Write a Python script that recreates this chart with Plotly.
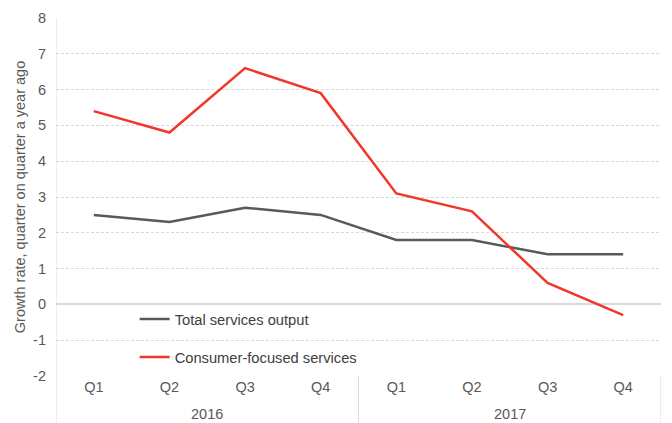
import plotly.graph_objects as go

years = ["2016", "2017"]
quarters = ["Q1", "Q2", "Q3", "Q4", "Q1", "Q2", "Q3", "Q4"]
total_services = [2.5, 2.3, 2.7, 2.5, 1.8, 1.8, 1.4, 1.4]
consumer_services = [5.4, 4.8, 6.6, 5.9, 3.1, 2.6, 0.6, -0.3]
y_ticks = list(range(-2, 9))

GRID = "#d9d9d9"
TEXT = "#595959"
FONT = "Liberation Sans, Arial, sans-serif"

# one slot per quarter along the x axis
pos = list(range(len(quarters)))

fig = go.Figure()
fig.add_trace(go.Scatter(
    x=pos, y=total_services, mode="lines", name="Total services output",
    line=dict(color="#595959", width=2.5), legendgroup="a",
))
fig.add_trace(go.Scatter(
    x=pos, y=consumer_services, mode="lines", name="Consumer-focused services",
    line=dict(color="#f0372a", width=2.5), legendgroup="b",
))

# year labels beneath the quarter labels, centred on each group of four
for i, yr in enumerate(years):
    fig.add_annotation(
        x=i * 4 + 1.5, y=-0.105, xref="x", yref="paper",
        text=yr, showarrow=False, yanchor="middle",
        font=dict(size=14.5, color=TEXT),
    )

# vertical dividers through the label band: left edge, between years, right edge
for xv in [-0.5, 3.5, 7.5]:
    fig.add_shape(
        type="line", xref="x", yref="paper",
        x0=xv, x1=xv, y0=0 if xv != -0.5 else 1, y1=-0.13,
        line=dict(color=GRID, width=1),
    )

fig.update_layout(
    width=672, height=423,
    margin=dict(l=56, r=11, t=18, b=47),
    paper_bgcolor="white", plot_bgcolor="white",
    font=dict(family=FONT, size=14.5, color=TEXT),
    showlegend=True,
    legend=dict(
        x=0.13, y=0.105, xanchor="left", yanchor="middle",
        bgcolor="rgba(0,0,0,0)", itemwidth=30,
        tracegroupgap=16, font=dict(size=14.7, color="#404040"),
    ),
)

fig.update_xaxes(
    range=[-0.5, 7.5],
    tickmode="array", tickvals=pos, ticktext=quarters,
    showgrid=False, showline=False, zeroline=False,
    ticks="", ticklabelstandoff=0,
    tickfont=dict(size=14.5, color=TEXT),
)
fig.update_yaxes(
    range=[-2, 8],
    tickmode="array", tickvals=y_ticks, ticktext=[str(v) for v in y_ticks],
    showgrid=True, gridcolor=GRID, griddash="3px,2px", gridwidth=1,
    zeroline=True, zerolinecolor=GRID, zerolinewidth=1.5,
    showline=False,
    ticks="", ticklabelstandoff=9,
    tickfont=dict(size=14.5, color=TEXT),
    title=dict(text="Growth rate, quarter on quarter a year ago",
               font=dict(size=14.5, color=TEXT), standoff=4),
)

fig.write_html("out.html")
